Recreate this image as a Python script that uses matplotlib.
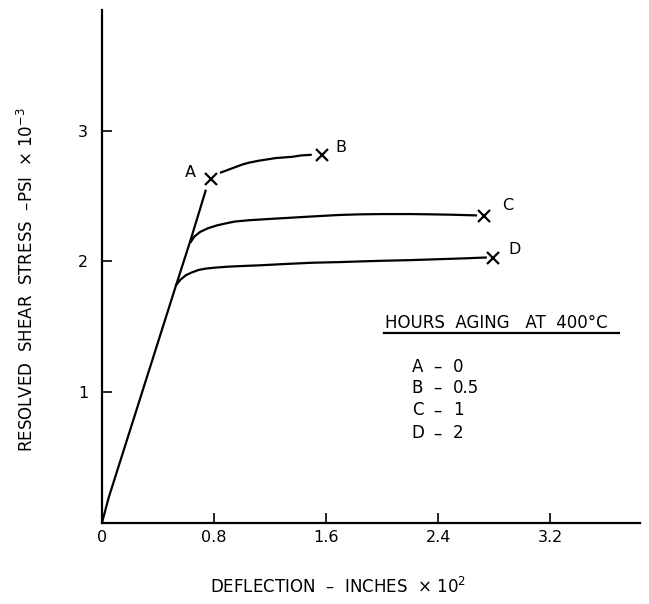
import numpy as np
import matplotlib
matplotlib.use('Agg')
import matplotlib.pyplot as plt

# elastic loading line shared by all specimens
elastic_x = [0, 0.05, 0.53, 0.635, 0.74]
elastic_y = [0, 0.20, 1.82, 2.17, 2.54]

# plastic branches after yield
b_x = [0.85, 0.90, 0.95, 1.00, 1.05, 1.12, 1.18, 1.24, 1.30, 1.36, 1.42, 1.49]
b_y = [2.68, 2.70, 2.72, 2.74, 2.755, 2.77, 2.78, 2.79, 2.795, 2.80, 2.81, 2.815]

c_x = [0.635, 0.66, 0.70, 0.76, 0.82, 0.88, 0.95, 1.05, 1.2, 1.36, 1.52, 1.69, 1.84,
       2.0, 2.2, 2.35, 2.5, 2.67]
c_y = [2.15, 2.19, 2.225, 2.255, 2.275, 2.29, 2.305, 2.315, 2.325, 2.335, 2.345,
       2.355, 2.36, 2.362, 2.362, 2.36, 2.357, 2.352]

d_x = [0.53, 0.56, 0.60, 0.64, 0.69, 0.74, 0.80, 0.9, 1.0, 1.12, 1.3, 1.5, 1.7,
       1.84, 2.0, 2.2, 2.4, 2.6, 2.74]
d_y = [1.82, 1.86, 1.895, 1.915, 1.935, 1.945, 1.952, 1.96, 1.965, 1.97, 1.98, 1.99,
       1.995, 2.00, 2.005, 2.01, 2.017, 2.024, 2.03]

# fracture points
end_labels = ['A', 'B', 'C', 'D']
end_x = [0.78, 1.57, 2.73, 2.79]
end_y = [2.63, 2.81, 2.35, 2.03]
label_offsets = [(-15, 5), (14, 6), (17, 7), (16, 6)]

aging_hours = ['0', '0.5', '1', '2']

x_ticks = [0, 0.8, 1.6, 2.4, 3.2]
y_ticks = [1, 2, 3]

fig = plt.figure(figsize=(6.49, 6.04), dpi=100)
ax = fig.add_axes([0.157, 0.134, 0.829, 0.849])

lw = 1.6
ax.plot(elastic_x, elastic_y, color='black', lw=lw)
ax.plot(b_x, b_y, color='black', lw=lw)
ax.plot(c_x, c_y, color='black', lw=lw)
ax.plot(d_x, d_y, color='black', lw=lw)
ax.plot(end_x, end_y, linestyle='none', marker='x', color='black',
        markersize=8, markeredgewidth=1.6)

for lab, x, y, off in zip(end_labels, end_x, end_y, label_offsets):
    ax.annotate(lab, (x, y), xytext=off, textcoords='offset points',
                ha='center', va='center', fontsize=11.5)

ax.set_xlim(0, 3.84)
ax.set_ylim(0, 3.92)
ax.spines['top'].set_visible(False)
ax.spines['right'].set_visible(False)
ax.spines['left'].set_linewidth(1.6)
ax.spines['bottom'].set_linewidth(1.6)

ax.set_xticks(x_ticks)
ax.set_xticklabels(['0', '0.8', '1.6', '2.4', '3.2'])
ax.set_yticks(y_ticks)
ax.set_yticklabels(['1', '2', '3'])
ax.tick_params(axis='both', direction='in', length=7, width=1.2, labelsize=11.5)
ax.tick_params(axis='x', pad=5)
ax.tick_params(axis='y', pad=10)

ax.set_xlabel(r'DEFLECTION  –  INCHES  × 10$^{2}$', fontsize=12)
ax.xaxis.set_label_coords(0.439, -0.105)
ax.set_ylabel(r'RESOLVED  SHEAR  STRESS  –PSI  × 10$^{-3}$', fontsize=12)
ax.yaxis.set_label_coords(-0.121, 0.474)

# aging legend with underlined heading
ax.text(0.526, 0.390, 'HOURS  AGING   AT  400°C', transform=ax.transAxes,
        ha='left', va='center', fontsize=12)
ax.plot([0.524, 0.961], [0.370, 0.370], transform=ax.transAxes,
        color='black', lw=1.6, clip_on=False)
row_y = [0.304, 0.263, 0.220, 0.175]
for lab, hrs, y in zip(end_labels, aging_hours, row_y):
    ax.text(0.576, y, lab, transform=ax.transAxes, ha='left', va='center', fontsize=12)
    ax.text(0.623, y, '–', transform=ax.transAxes, ha='center', va='center', fontsize=12)
    ax.text(0.652, y, hrs, transform=ax.transAxes, ha='left', va='center', fontsize=12)

fig.savefig('out.png', dpi=100)
